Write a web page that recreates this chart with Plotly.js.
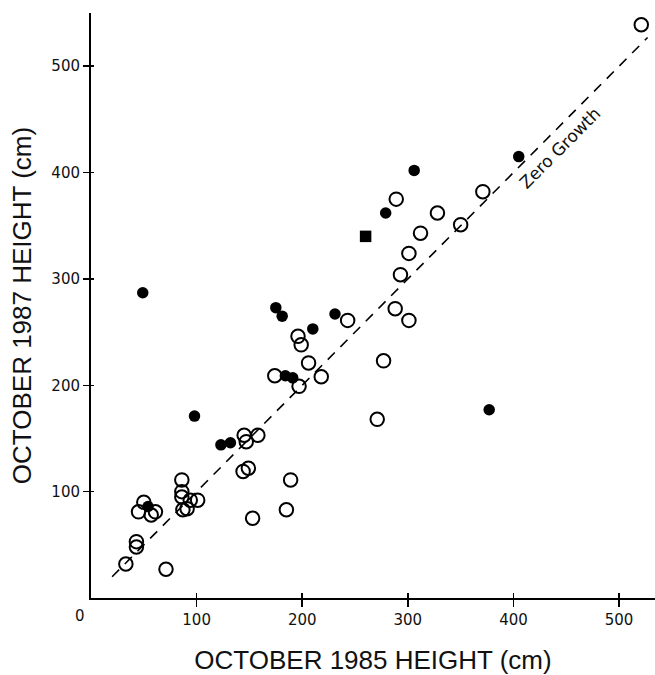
<!DOCTYPE html>
<html>
<head>
<meta charset="utf-8">
<script src="https://cdn.plot.ly/plotly-3.0.1.min.js"></script>
<style>html,body{margin:0;padding:0;background:#fff;}#chart{width:655px;height:675px;}</style>
</head>
<body>
<div id="chart"></div>
<script>
// Open circles: October 1985 height vs October 1987 height (cm)
var openX = [33, 43, 43, 71, 50, 45, 57, 61, 86, 86, 86, 87, 91, 94, 101, 145, 158, 147, 144, 149, 153, 189, 185, 174, 197, 206, 218, 196, 199, 243, 277, 271, 288, 301, 293, 301, 312, 328, 289, 350, 371, 521];
var openY = [32, 53, 48, 27, 90, 81, 78, 81, 111, 100, 95, 83, 84, 92, 92, 153, 153, 147, 119, 122, 75, 111, 83, 209, 199, 221, 208, 246, 238, 261, 223, 168, 272, 261, 304, 324, 343, 362, 375, 351, 382, 539];
// Filled circles
var filledX = [49, 54, 98, 123, 132, 175, 181, 210, 231, 184, 191, 279, 306, 405, 377];
var filledY = [287, 86, 171, 144, 146, 273, 265, 253, 267, 209, 207, 362, 402, 415, 177];
// Filled square
var squareX = [260];
var squareY = [340];
// Zero growth line (y = x)
var zeroLine = [20, 527];
// Tick values / labels
var tickVals = [100, 200, 300, 400, 500];
var tickText = ['100', '200', '300', '400', '500'];

var traces = [
  {x: zeroLine, y: zeroLine, mode: 'lines', type: 'scatter', xaxis: 'x2', yaxis: 'y2',
   line: {color: '#000', width: 1.6, dash: '10px,8px'}, hoverinfo: 'skip', showlegend: false},
  {x: openX, y: openY, mode: 'markers', type: 'scatter',
   marker: {symbol: 'circle-open', size: 13.5, color: '#000', line: {color: '#000', width: 2}}, showlegend: false},
  {x: filledX, y: filledY, mode: 'markers', type: 'scatter',
   marker: {symbol: 'circle', size: 11.5, color: '#000'}, showlegend: false},
  {x: squareX, y: squareY, mode: 'markers', type: 'scatter',
   marker: {symbol: 'square', size: 11.5, color: '#000'}, showlegend: false}
];

var tickFont = {family: 'DejaVu Sans, sans-serif', size: 15, color: '#111'};
var titleFont = {family: 'Liberation Sans, Arial, sans-serif', size: 26, color: '#111'};

var layout = {
  width: 655, height: 675,
  margin: {l: 91, r: 0, t: 13, b: 77},
  paper_bgcolor: '#fff', plot_bgcolor: '#fff',
  showlegend: false,
  xaxis: {
    range: [0, 534], tickvals: tickVals, ticktext: tickText,
    ticks: 'outside', ticklen: 7, tickwidth: 1.5, tickcolor: '#000',
    showline: true, linecolor: '#000', linewidth: 2, showgrid: false, zeroline: false,
    tickfont: tickFont,
    title: {text: 'OCTOBER 1985 HEIGHT (cm)', font: titleFont, standoff: 24}
  },
  yaxis: {
    range: [0, 550], tickvals: tickVals, ticktext: tickText,
    ticks: 'outside', ticklen: 6, tickwidth: 1.5, tickcolor: '#000',
    showline: true, linecolor: '#000', linewidth: 2, showgrid: false, zeroline: false,
    tickfont: tickFont,
    title: {text: 'OCTOBER 1987 HEIGHT (cm)', font: titleFont, standoff: 12}
  },
  xaxis2: {
    overlaying: 'x', anchor: 'y2', range: [0, 534], tickvals: tickVals,
    ticks: 'inside', ticklen: 5, tickwidth: 1.5, tickcolor: '#000',
    showticklabels: false, showline: false, showgrid: false, zeroline: false
  },
  yaxis2: {
    overlaying: 'y', anchor: 'x2', range: [0, 550], tickvals: tickVals,
    ticks: 'inside', ticklen: 3, tickwidth: 1.5, tickcolor: '#000',
    showticklabels: false, showline: false, showgrid: false, zeroline: false
  },
  annotations: [
    {text: '0', xref: 'paper', yref: 'paper', x: -0.0195, y: 0, xanchor: 'center', yanchor: 'top', yshift: -7,
     showarrow: false, font: tickFont},
    {text: 'Zero Growth', xref: 'x', yref: 'y', x: 444, y: 423, textangle: -45,
     showarrow: false, font: {family: 'DejaVu Sans, sans-serif', size: 17, color: '#111'}}
  ]
};

Plotly.newPlot('chart', traces, layout, {staticPlot: true, displayModeBar: false});
</script>
</body>
</html>
